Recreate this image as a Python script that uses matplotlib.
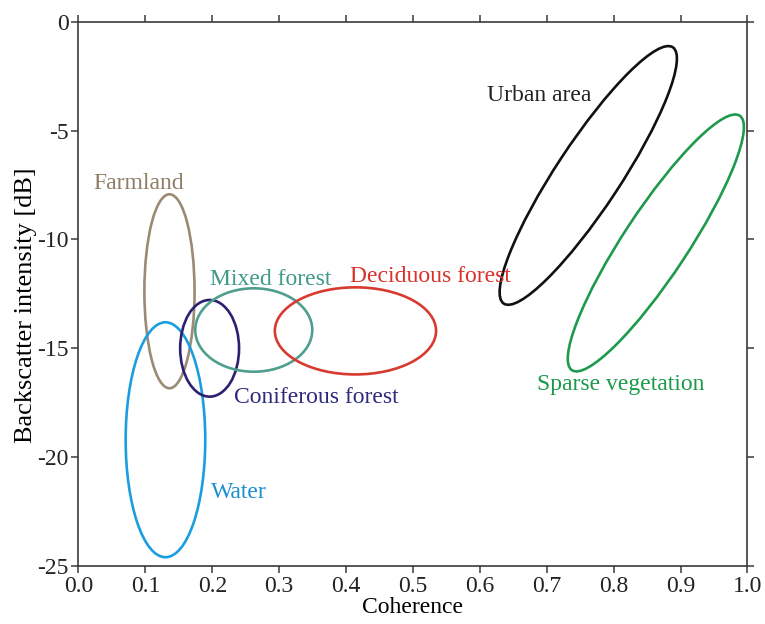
#!/usr/bin/env python3
"""
Coherence vs backscatter intensity: land-cover class ellipses.
"""

import numpy as np
import matplotlib
matplotlib.use("Agg")
import matplotlib.pyplot as plt
from matplotlib.patches import Ellipse
from matplotlib.transforms import Affine2D

# --- data --------------------------------------------------------------------
CLASSES = ["Farmland", "Water", "Coniferous forest", "Mixed forest",
           "Deciduous forest", "Urban area", "Sparse vegetation"]
# ellipse centre (coherence, dB)
CENTER_X = [0.136, 0.130, 0.196, 0.262, 0.414, 0.762, 0.863]
CENTER_Y = [-12.38, -19.20, -15.00, -14.16, -14.20, -7.06, -10.16]
# ellipse width (coherence) and height (dB) before tilt
WIDTH = [0.075, 0.119, 0.088, 0.175, 0.241, 0.096, 0.096]
HEIGHT = [8.91, 10.79, 4.44, 3.83, 4.00, 14.10, 14.00]
# tilt in screen degrees (negative = leaning right)
TILT = [0, 0, 0, 0, 0, -33.4, -33.4]
# label anchor (left, vertical centre)
LABEL_X = [0.022, 0.198, 0.233, 0.197, 0.406, 0.611, 0.685]
LABEL_Y = [-7.41, -21.60, -17.24, -11.83, -11.69, -3.37, -16.64]

X_TICKS = np.round(np.arange(0, 1.01, 0.1), 1)
Y_TICKS = np.arange(-25, 1, 5)

# --- styles ------------------------------------------------------------------
LINE_COLOURS = ["#9b8a74", "#1a9ee0", "#2b2170", "#4f9e8e",
                "#d83a30", "#111111", "#1f9a4c"]
TEXT_COLOURS = ["#8f7d66", "#1a8fd0", "#2d2a7c", "#3f9a86",
                "#d8322a", "#222222", "#1b9a4a"]
SPINE = "#3a3a3a"

plt.rcParams["font.family"] = ["Liberation Serif", "DejaVu Serif"]
plt.rcParams["font.size"] = 17

fig = plt.figure(figsize=(7.65, 6.24), dpi=100)
ax = fig.add_axes([0.1026, 0.0929, 0.8745, 0.8723])
ax.set_xlim(0, 1.0)
ax.set_ylim(-25, 0)

# screen aspect: dB-equivalent length of one coherence unit
bbox = ax.get_window_extent()
k = (bbox.width / 1.0) / (bbox.height / 25.0)
iso = Affine2D().scale(1.0 / k, 1.0) + ax.transData

for i in range(len(CLASSES)):
    e = Ellipse((CENTER_X[i] * k, CENTER_Y[i]), WIDTH[i] * k, HEIGHT[i],
                angle=TILT[i], transform=iso, fill=False,
                edgecolor=LINE_COLOURS[i], linewidth=1.9)
    ax.add_patch(e)
    ax.text(LABEL_X[i], LABEL_Y[i], CLASSES[i], color=TEXT_COLOURS[i],
            ha="left", va="center", fontsize=17)

ax.set_xticks(X_TICKS)
ax.set_xticklabels([f"{v:.1f}" for v in X_TICKS])
ax.set_yticks(Y_TICKS)
ax.set_yticklabels([f"{v:d}" for v in Y_TICKS])
ax.tick_params(direction="out", length=5, width=1.1, color=SPINE,
               top=True, right=True, labelcolor="#222222", pad=2)
for s in ax.spines.values():
    s.set_color(SPINE)
    s.set_linewidth(1.2)

ax.set_xlabel("Coherence", labelpad=0)
ax.set_ylabel("Backscatter intensity [dB]", fontsize=19, labelpad=1)
ax.yaxis.set_label_coords(-0.062, 0.48)

fig.savefig("out.png", dpi=100, facecolor="white")
